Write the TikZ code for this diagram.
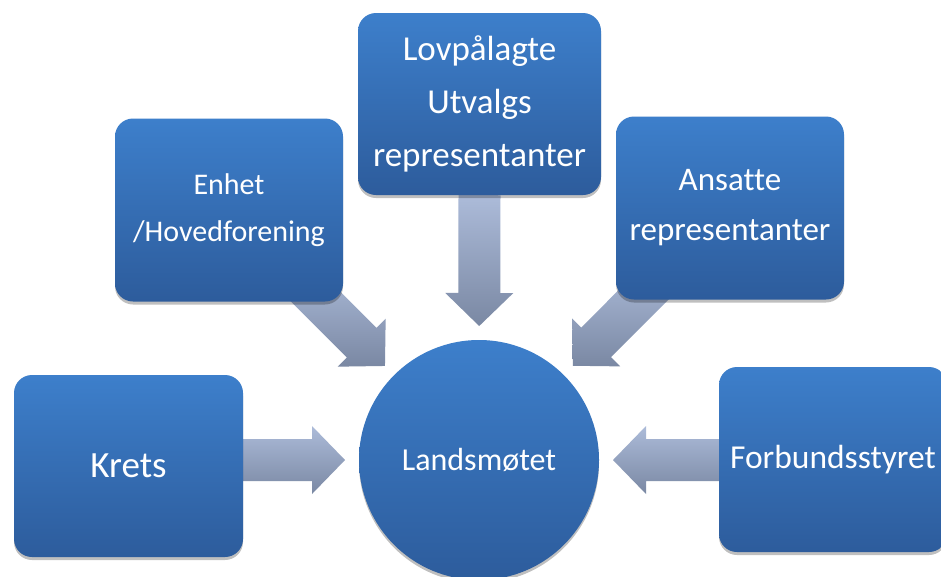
\documentclass[tikz,border=0pt]{standalone}
\usepackage{fontspec}
\setmainfont{Carlito}[Ligatures={NoCommon}]
\usetikzlibrary{calc,shadows}
\pgfdeclarelayer{bg}
\pgfsetlayers{bg,main}
\definecolor{boxtop}{RGB}{61,127,203}
\definecolor{boxbot}{RGB}{45,92,156}
\definecolor{arrtop}{RGB}{172,187,217}
\definecolor{arrbot}{RGB}{122,136,163}
\tikzset{
  arrowfill/.style={top color=arrtop,bottom color=arrbot,draw=none},
  bluebox/.style={rectangle,rounded corners=18pt,top color=boxtop,bottom color=boxbot,
    text=white,align=center,minimum width=228pt,minimum height=183pt,inner sep=0pt,
    drop shadow={shadow xshift=0pt,shadow yshift=-3pt,opacity=0.25,fill=black}},
  bluecircle/.style={circle,top color=boxtop,bottom color=boxbot,text=white,
    minimum size=240pt,inner sep=0pt,
    drop shadow={shadow xshift=0pt,shadow yshift=-3pt,opacity=0.25,fill=black}},
}
\newcommand\blockarrow[3]{%
  \coordinate (#1h) at ($(#3)!33pt!(#2)$);
  \path[arrowfill] ($(#2)!21pt!90:(#3)$) -- ($(#1h)!21pt!-90:(#2)$) -- ($(#1h)!34pt!-90:(#2)$)
    -- (#3) -- ($(#1h)!34pt!90:(#2)$) -- ($(#1h)!21pt!90:(#2)$) -- ($(#2)!21pt!-90:(#3)$) -- cycle;
}
\begin{document}
\begin{tikzpicture}[x=1pt,y=-1pt]
\useasboundingbox (0,0) rectangle (941,576);
\begin{pgfonlayer}{bg}
\fill[white] (0,0) rectangle (941,576);
\end{pgfonlayer}

\node[bluecircle,font=\fontsize{32}{38}\selectfont] (lm) at (479,460) {Landsmøtet};
\node[bluebox,minimum width=243pt,minimum height=182pt,font=\fontsize{35}{53}\selectfont] (lov) at (479.5,104) {Lovpålagte\\Utvalgs\\representanter};
\node[bluebox,font=\fontsize{30}{47}\selectfont] (enh) at (229,210) {Enhet\\/Hovedforening};
\node[bluebox,font=\fontsize{33}{50}\selectfont] (ans) at (730,208) {Ansatte\\representanter};
\node[bluebox,minimum width=229pt,minimum height=182pt,font=\fontsize{37}{44}\selectfont] (kre) at (128.5,466) {Krets};
\node[bluebox,minimum height=185pt,font=\fontsize{33.5}{40}\selectfont] (frb) at (833,459.5) {Forbundsstyret};

\begin{pgfonlayer}{bg}
\coordinate (t1) at ($(lm.center)!134pt!(lov.center)$);
\coordinate (t2) at ($(lm.center)!133pt!(enh.center)$);
\coordinate (t3) at ($(lm.center)!133pt!(ans.center)$);
\coordinate (s4) at (kre.center |- lm.center);
\coordinate (t4) at ($(lm.center)!134pt!(s4)$);
\coordinate (s5) at (frb.center |- lm.center);
\coordinate (t5) at ($(lm.center)!134pt!(s5)$);
\coordinate (s2) at ($(enh.center)!0.45!(t2)$);
\coordinate (s3) at ($(ans.center)!0.45!(t3)$);
\blockarrow{a1}{lov.south}{t1}
\blockarrow{a2}{s2}{t2}
\blockarrow{a3}{s3}{t3}
\blockarrow{a4}{s4}{t4}
\blockarrow{a5}{s5}{t5}
\end{pgfonlayer}
\end{tikzpicture}
\end{document}
